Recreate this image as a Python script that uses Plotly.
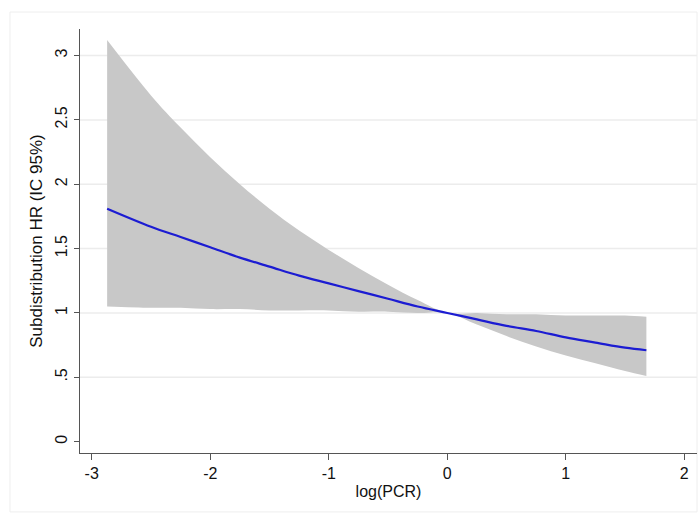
import plotly.graph_objects as go

# Data
log_pcr = [-2.87, -2.5, -2.25, -2.0, -1.75, -1.5, -1.25, -1.0, -0.75, -0.5, -0.25,
           0.0, 0.25, 0.5, 0.75, 1.0, 1.25, 1.5, 1.68]
hr = [1.81, 1.67, 1.59, 1.51, 1.43, 1.36, 1.29, 1.23, 1.17, 1.11, 1.05,
      1.00, 0.95, 0.90, 0.86, 0.81, 0.77, 0.73, 0.71]
ci_upper = [3.12, 2.69, 2.44, 2.21, 2.00, 1.81, 1.64, 1.49, 1.35, 1.22, 1.10,
            1.00, 1.00, 0.99, 0.99, 0.98, 0.98, 0.98, 0.97]
ci_lower = [1.05, 1.04, 1.04, 1.03, 1.03, 1.02, 1.02, 1.02, 1.01, 1.01, 1.00,
            1.00, 0.91, 0.82, 0.74, 0.67, 0.61, 0.55, 0.51]

x_ticks = [-3, -2, -1, 0, 1, 2]
x_ticktext = ["-3", "-2", "-1", "0", "1", "2"]
y_ticks = [0, 0.5, 1, 1.5, 2, 2.5, 3]
y_ticktext = ["0", ".5", "1", "1.5", "2", "2.5", "3"]
grid_values = [0.5, 1, 1.5, 2, 2.5, 3]

FONT = "Liberation Sans, Arial, Helvetica, sans-serif"

fig = go.Figure()
fig.add_trace(go.Scatter(x=log_pcr, y=ci_lower, mode="lines",
                         line=dict(width=0, color="#c8c8c8", shape="spline"),
                         showlegend=False, hoverinfo="skip"))
fig.add_trace(go.Scatter(x=log_pcr, y=ci_upper, mode="lines",
                         line=dict(width=0, color="#c8c8c8", shape="spline"),
                         fill="tonexty", fillcolor="#c8c8c8",
                         showlegend=False, hoverinfo="skip"))
fig.add_trace(go.Scatter(x=log_pcr, y=hr, mode="lines",
                         line=dict(width=2.2, color="#1c1cd2", shape="spline"),
                         showlegend=False))

shapes = []
for g in grid_values:
    shapes.append(dict(type="line", xref="paper", yref="y", x0=0, x1=1, y0=g, y1=g,
                       line=dict(color="#ececec", width=1.5), layer="below"))
# faint outer frame
shapes.append(dict(type="rect", xref="paper", yref="paper",
                   x0=-0.1135, x1=1.0, y0=-0.139, y1=1.040,
                   line=dict(color="#eeeeee", width=1), layer="below"))

fig.update_layout(
    width=700, height=514,
    margin=dict(l=80, r=3, t=29, b=61),
    paper_bgcolor="white", plot_bgcolor="white",
    font=dict(family=FONT, size=16, color="#111111"),
    shapes=shapes,
    xaxis=dict(range=[-3.099, 2.107], tickvals=x_ticks, ticktext=x_ticktext,
               showgrid=False, zeroline=False, showline=True,
               linecolor="#555555", linewidth=1.3,
               ticks="outside", ticklen=6, tickcolor="#555555", tickwidth=1.3,
               tickfont=dict(size=16, color="#111111"),
               title=dict(text="log(PCR)", font=dict(size=16), standoff=4)),
    yaxis=dict(range=[-0.088, 3.206], tickvals=y_ticks, ticktext=y_ticktext,
               tickangle=-90, showgrid=False, zeroline=False, showline=True,
               linecolor="#555555", linewidth=1.3,
               ticks="outside", ticklen=5, tickcolor="#555555", tickwidth=1.3,
               tickfont=dict(size=16, color="#111111"),
               title=dict(text="Subdistribution HR (IC 95%)", font=dict(size=17),
                          standoff=6)),
)

fig.write_html("out.html", config={"displayModeBar": False},
               post_script="document.body.style.margin='0';document.body.style.padding='0';")
